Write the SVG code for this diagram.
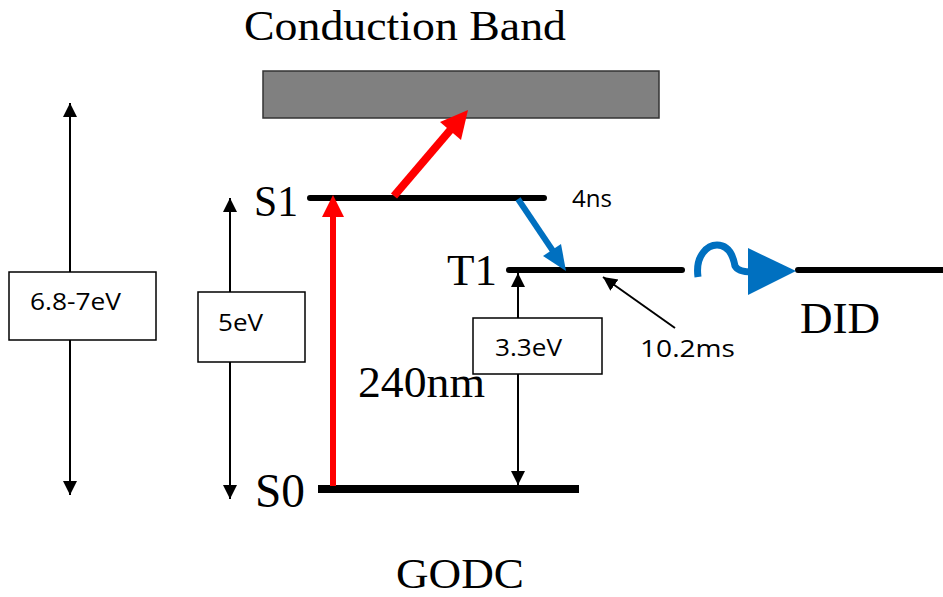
<svg xmlns="http://www.w3.org/2000/svg" width="943" height="597" viewBox="0 0 943 597">
<style>
.serif{font-family:"Liberation Serif","Times New Roman",serif;fill:#000}
.sans{font-family:"Open Sans","Liberation Sans",sans-serif;fill:#000;font-size:23px}
.lvl{stroke:#000;stroke-width:6;stroke-linecap:round}
.thin{stroke:#000;stroke-width:2;fill:none}
.box{fill:#fff;stroke:#000;stroke-width:1.5}
</style>
<defs>
<marker id="ah" viewBox="0 0 10 10" refX="10" refY="5" markerWidth="7" markerHeight="8" markerUnits="strokeWidth" orient="auto-start-reverse">
<path d="M0,0 L10,5 L0,10 z" fill="#000"/>
</marker>
</defs>
<rect width="943" height="597" fill="#fff"/>
<g id="texts">
<text class="serif" x="244" y="40" font-size="43" textLength="322" lengthAdjust="spacingAndGlyphs">Conduction Band</text>
<text class="serif" x="396" y="588" font-size="42" textLength="128" lengthAdjust="spacingAndGlyphs">GODC</text>
<text class="serif" x="800" y="333" font-size="44" textLength="80" lengthAdjust="spacingAndGlyphs">DID</text>
<text class="serif" x="358" y="397" font-size="45" textLength="127" lengthAdjust="spacingAndGlyphs">240nm</text>
<text class="sans" x="572" y="207" textLength="40" lengthAdjust="spacingAndGlyphs">4ns</text>
<text class="sans" x="640" y="357" textLength="95" lengthAdjust="spacingAndGlyphs">10.2ms</text>
</g>
<g id="conduction-band"><rect x="263" y="71" width="396" height="47" fill="#808080" stroke="#333" stroke-width="1.5"/></g>
<g id="S1"><line class="lvl" x1="310" y1="198" x2="544" y2="198"/><text class="serif" x="254" y="216" font-size="44" textLength="44" lengthAdjust="spacingAndGlyphs">S1</text></g>
<g id="T1"><line class="lvl" x1="509" y1="270" x2="682" y2="270"/><text class="serif" x="447" y="285" font-size="44" textLength="50" lengthAdjust="spacingAndGlyphs">T1</text></g>
<g id="S0"><line stroke="#000" stroke-width="8" x1="318" y1="489" x2="579" y2="489"/><text class="serif" x="255" y="507" font-size="48" textLength="50" lengthAdjust="spacingAndGlyphs">S0</text></g>
<g id="DID-level"><line class="lvl" x1="798" y1="270" x2="943" y2="270"/></g>
<g id="box-68"><rect class="box" x="9" y="272" width="147" height="68"/><text class="sans" x="30" y="310" textLength="91" lengthAdjust="spacingAndGlyphs">6.8-7eV</text></g>
<g id="box-5"><rect class="box" x="198" y="292" width="107" height="70"/><text class="sans" x="218" y="331" textLength="45" lengthAdjust="spacingAndGlyphs">5eV</text></g>
<g id="box-33"><rect class="box" x="473" y="318" width="129" height="56"/><text class="sans" x="495" y="356" textLength="67" lengthAdjust="spacingAndGlyphs">3.3eV</text></g>
<g id="connectors">
<line class="thin" x1="70" y1="103" x2="70" y2="272" marker-start="url(#ah)"/>
<line class="thin" x1="70" y1="340" x2="70" y2="495" marker-end="url(#ah)"/>
<line class="thin" x1="230" y1="198" x2="230" y2="292" marker-start="url(#ah)"/>
<line class="thin" x1="230" y1="362" x2="230" y2="499" marker-end="url(#ah)"/>
<line class="thin" x1="518" y1="273" x2="518" y2="318" marker-start="url(#ah)"/>
<line class="thin" x1="518" y1="374" x2="518" y2="485" marker-end="url(#ah)"/>
<line class="thin" x1="675" y1="328" x2="603" y2="277" marker-end="url(#ah)"/>
<line x1="333" y1="486" x2="333" y2="215" stroke="#f00" stroke-width="6"/>
<polygon points="333,195 322,217 344,217" fill="#f00"/>
<line x1="394" y1="196" x2="452" y2="128" stroke="#f00" stroke-width="8"/>
<polygon points="468,110 440,122 461,140" fill="#f00"/>
<line x1="518" y1="199" x2="553" y2="251" stroke="#0070C0" stroke-width="6"/>
<polygon points="566,271 543,256 561,244" fill="#0070C0"/>
<path d="M698,277 C695,255 708,245 717,245 C728,245 733,255 735,266 Q738,272 752,272" fill="none" stroke="#0070C0" stroke-width="7"/>
<polygon points="748,248 796,271 748,295" fill="#0070C0"/>
</g>
</svg>
